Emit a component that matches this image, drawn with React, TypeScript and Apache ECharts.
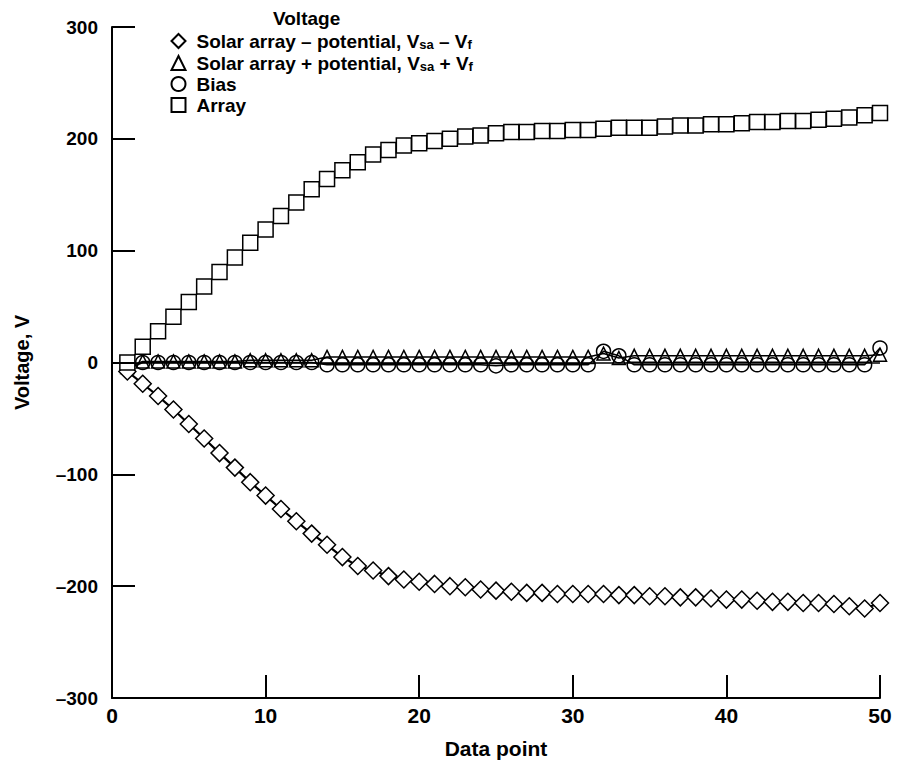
import React, { useEffect, useRef } from "react";
import * as echarts from "echarts";

const dataPoints = [1,2,3,4,5,6,7,8,9,10,11,12,13,14,15,16,17,18,19,20,21,22,23,24,25,26,27,28,29,30,31,32,33,34,35,36,37,38,39,40,41,42,43,44,45,46,47,48,49,50];

const minusPotential = [-8,-19,-30,-42,-55,-68,-81,-94,-107,-119,-131,-142,-153,-163,-174,-182,-186,-191,-194,-196,-198,-200,-201,-203,-204,-205,-206,-206,-207,-207,-207,-207,-208,-208,-209,-209,-210,-210,-211,-212,-212,-213,-214,-214,-215,-215,-216,-218,-220,-215];

const plusPotential = [-4,1,1,1,1,1,1,1,2,2,2,2,2,5,5,5,5,5,5,5,5,5,5,5,5,5,5,5,5,5,5,8,4,6,6,6,6,6,6,6,6,6,6,6,6,6,6,6,6,7];

const bias = [-6,0,0,0,0,0,0,0,0,0,0,0,0,-2,-2,-2,-2,-2,-2,-2,-2,-2,-2,-2,-3,-2,-2,-2,-2,-2,-2,10,6,-2,-2,-2,-2,-2,-2,-2,-2,-2,-2,-2,-2,-2,-2,-2,-2,13];

const arrayVoltage = [0,14,28,41,54,68,81,94,107,119,131,143,155,164,172,179,186,190,194,196,198,200,202,203,205,206,206,207,207,208,208,209,210,210,210,211,212,212,213,213,214,215,215,216,216,217,218,219,221,223];

const seriesNames = [
  "Solar array – potential, Vsa – Vf",
  "Solar array + potential, Vsa + Vf",
  "Bias",
  "Array",
];
const legendLabels = [
  "Solar array – potential, V{sub|sa} – V{sub|f}",
  "Solar array + potential, V{sub|sa} + V{sub|f}",
  "Bias",
  "Array",
];
const yTicks = [-300, -200, -100, 0, 100, 200, 300];
const xTicks = [0, 10, 20, 30, 40, 50];

const FONT = "'Liberation Sans', Arial, Helvetica, sans-serif";

export default function App() {
  const ref = useRef<HTMLDivElement>(null);
  useEffect(() => {
    if (!ref.current) return;
    const chart = echarts.init(ref.current, undefined, { renderer: "svg" });
    const pair = (vals: number[]) => dataPoints.map((x, i) => [x, vals[i]]);
    const mk = (name: string, vals: number[], symbol: string, size: any, fill: string, z: number, lw: number) => ({
      name,
      type: "line",
      data: pair(vals),
      symbol,
      symbolSize: size,
      showAllSymbol: true,
      z,
      lineStyle: { color: "#000", width: lw },
      itemStyle: { color: fill, borderColor: "#000", borderWidth: 1.5 },
      emphasis: { disabled: true },
    });
    const labelMap: Record<string, string> = {};
    seriesNames.forEach((n, i) => (labelMap[n] = legendLabels[i]));
    chart.setOption({
      animation: false,
      backgroundColor: "#fff",
      textStyle: { fontFamily: FONT },
      title: {
        text: "Voltage",
        left: 268,
        top: 4,
        textStyle: { fontFamily: FONT, fontSize: 19, fontWeight: "bold", color: "#000" },
      },
      legend: {
        orient: "vertical",
        left: 164,
        top: 25,
        itemWidth: 14,
        itemHeight: 14,
        itemGap: 1,
        selectedMode: false,
        data: [
          { name: seriesNames[0], icon: "diamond" },
          { name: seriesNames[1], icon: "triangle" },
          { name: seriesNames[2], icon: "circle" },
          { name: seriesNames[3], icon: "rect" },
        ],
        formatter: (n: string) => labelMap[n] ?? n,
        textStyle: {
          fontFamily: FONT,
          fontSize: 19,
          fontWeight: "bold",
          color: "#000",
          lineHeight: 20,
          padding: [0, 0, 0, 6],
          rich: {
            sub: {
              fontFamily: FONT,
              fontSize: 13,
              fontWeight: "bold",
              color: "#000",
              verticalAlign: "bottom",
              lineHeight: 12,
              padding: [8, 0, 0, 0],
            },
          },
        },
      },
      grid: { left: 112, right: 17, top: 27, bottom: 78, containLabel: false },
      xAxis: {
        type: "value",
        min: xTicks[0],
        max: xTicks[xTicks.length - 1],
        interval: 10,
        name: "Data point",
        nameLocation: "middle",
        nameGap: 40,
        nameTextStyle: { fontFamily: FONT, fontSize: 21, fontWeight: "bold", color: "#000" },
        axisLine: { show: true, onZero: false, lineStyle: { color: "#000", width: 2 } },
        axisTick: { show: true, inside: true, length: 23, lineStyle: { color: "#000", width: 2 } },
        axisLabel: { color: "#000", fontSize: 21, fontWeight: "bold", fontFamily: FONT, margin: 7 },
        splitLine: { show: false },
        z: 10,
      },
      yAxis: {
        type: "value",
        min: yTicks[0],
        max: yTicks[yTicks.length - 1],
        interval: 100,
        name: "Voltage, V",
        nameLocation: "middle",
        nameRotate: 90,
        nameGap: 80,
        nameTextStyle: { fontFamily: FONT, fontSize: 20, fontWeight: "bold", color: "#000" },
        axisLine: { show: true, onZero: false, lineStyle: { color: "#000", width: 2 } },
        axisTick: { show: true, inside: true, length: 23, lineStyle: { color: "#000", width: 2 } },
        axisLabel: {
          color: "#000",
          fontSize: 19,
          fontWeight: "bold",
          fontFamily: FONT,
          margin: 14,
          formatter: (v: number) => (v < 0 ? "–" + Math.abs(v) : String(v)),
        },
        splitLine: { show: false },
        z: 10,
      },
      series: [
        {
          ...mk(seriesNames[0], minusPotential, "diamond", [17, 17], "#fff", 4, 2.2),
        },
        {
          ...mk(seriesNames[1], plusPotential, "triangle", [13, 13], "none", 3, 1.5),
          markLine: {
            silent: true,
            symbol: "none",
            label: { show: false },
            lineStyle: { color: "#000", width: 1.5, type: "solid" },
            data: [[{ coord: [dataPoints[0], 0] }, { coord: [dataPoints[dataPoints.length - 1], 0] }]],
          },
        },
        {
          ...mk(seriesNames[2], bias, "circle", 14, "none", 3, 1.5),
        },
        {
          ...mk(seriesNames[3], arrayVoltage, "rect", 15, "#fff", 5, 1.5),
        },
      ],
    });
    return () => chart.dispose();
  }, []);
  return (
    <div
      ref={ref}
      style={{ position: "fixed", left: 0, top: 0, width: 897, height: 776, background: "#fff" }}
    />
  );
}
